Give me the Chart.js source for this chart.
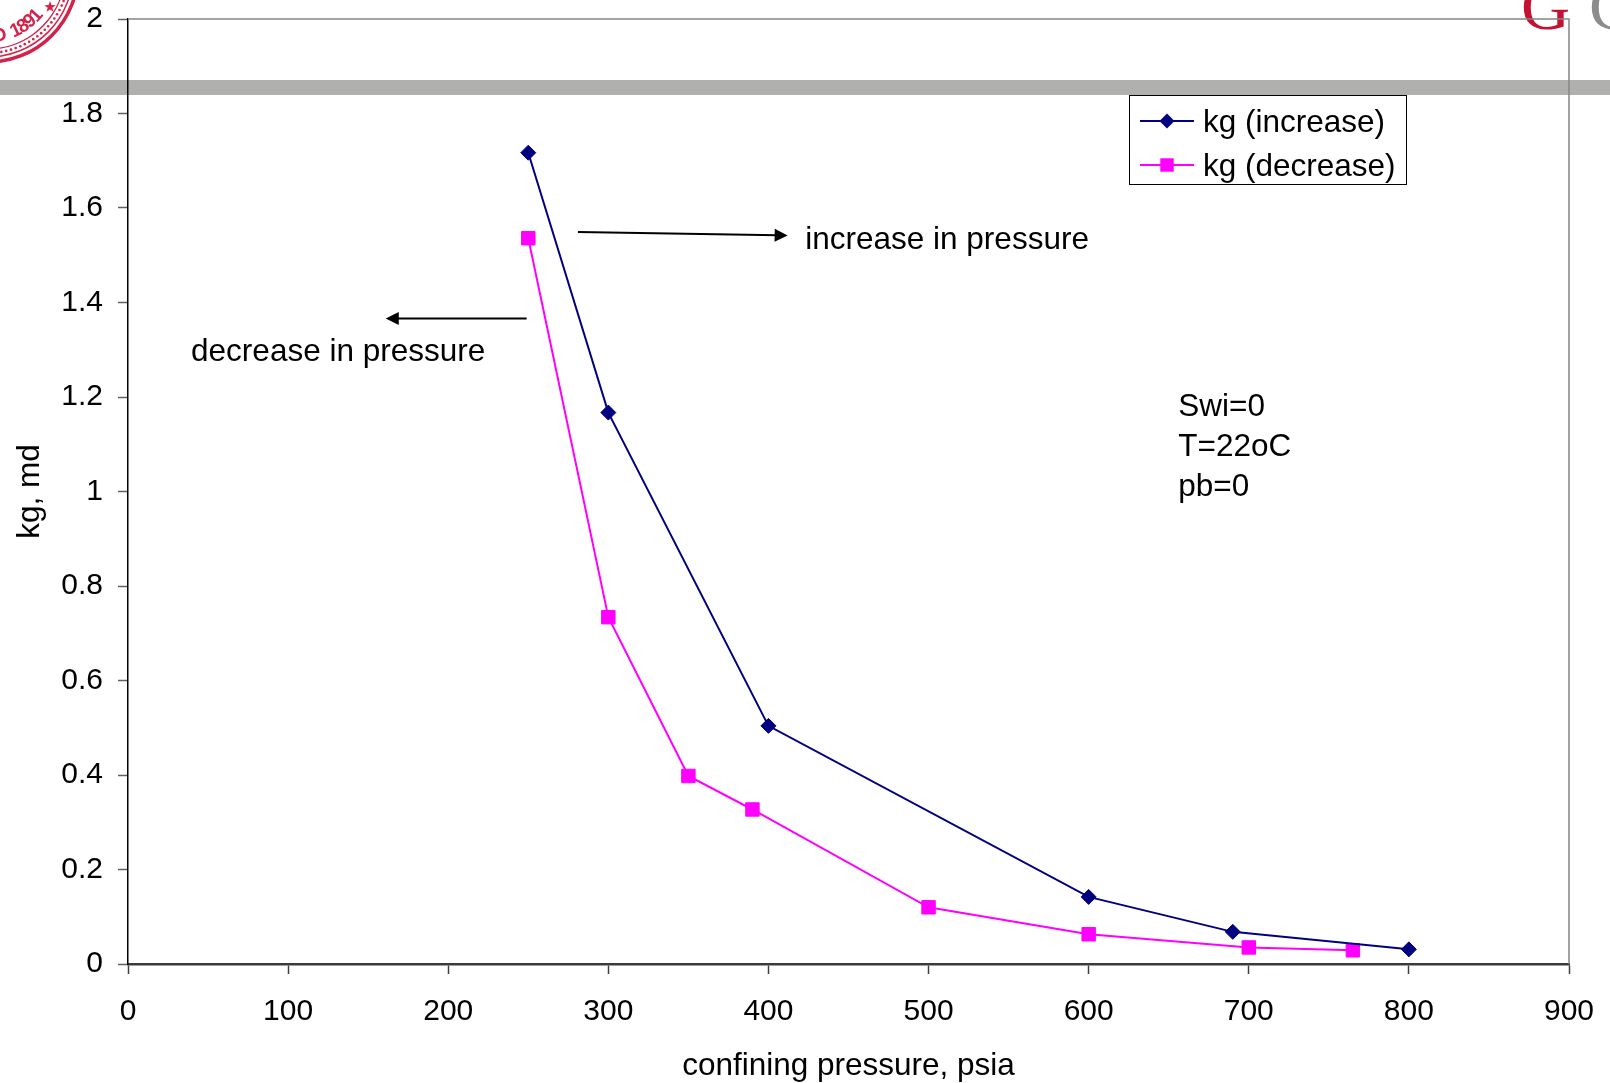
<!DOCTYPE html>
<html>
<head>
<meta charset="utf-8">
<script src="https://cdn.jsdelivr.net/npm/chart.js@4.4.1/dist/chart.umd.min.js"></script>
<style>
  html, body { margin: 0; padding: 0; background: #fff; }
  #wrap { width: 1610px; height: 1083px; }
</style>
</head>
<body>
<div id="wrap"><canvas id="graph"></canvas></div>
<script>
Chart.defaults.color = '#000';
Chart.defaults.font.family = '"Liberation Sans", Arial, sans-serif';
Chart.defaults.font.size = 30;

// gas permeability kg (md) against confining pressure (psia)
const pressureUp = [250, 300, 400, 600, 690, 800];
const kgUp = [1.717, 1.167, 0.504, 0.142, 0.068, 0.031];
const pressureDown = [250, 300, 350, 390, 500, 600, 700, 765];
const kgDown = [1.536, 0.734, 0.398, 0.327, 0.120, 0.063, 0.035, 0.029];

const seriesNames = ['kg (increase)', 'kg (decrease)'];
const xTickLabels = ['0', '100', '200', '300', '400', '500', '600', '700', '800', '900'];
const yTickLabels = ['0', '0.2', '0.4', '0.6', '0.8', '1', '1.2', '1.4', '1.6', '1.8', '2'];
const noteLines = ['Swi=0', 'T=22oC', 'pb=0'];

const NAVY = '#000080';
const MAGENTA = '#ff00ff';
const TEXT_FONT = '31.5px "Liberation Sans", Arial, sans-serif';

function toPoints(xs, ys) {
  return xs.map((x, i) => ({ x: x, y: ys[i] }));
}

function marker(ctx, style, x, y, r, color) {
  ctx.save();
  ctx.fillStyle = color;
  ctx.beginPath();
  if (style === 'rectRot') {
    ctx.moveTo(x - r, y);
    ctx.lineTo(x, y - r);
    ctx.lineTo(x + r, y);
    ctx.lineTo(x, y + r);
    ctx.closePath();
  } else {
    const h = r * Math.SQRT1_2;
    ctx.rect(x - h, y - h, 2 * h, 2 * h);
  }
  ctx.fill();
  ctx.restore();
}

function arrow(ctx, x1, y1, x2, y2) {
  const a = Math.atan2(y2 - y1, x2 - x1);
  ctx.save();
  ctx.strokeStyle = '#000';
  ctx.fillStyle = '#000';
  ctx.lineWidth = 2;
  ctx.beginPath();
  ctx.moveTo(x1, y1);
  ctx.lineTo(x2 - 10 * Math.cos(a), y2 - 10 * Math.sin(a));
  ctx.stroke();
  ctx.translate(x2, y2);
  ctx.rotate(a);
  ctx.beginPath();
  ctx.moveTo(0, 0);
  ctx.lineTo(-13, -6.5);
  ctx.lineTo(-13, 6.5);
  ctx.closePath();
  ctx.fill();
  ctx.restore();
}

// slide header: grey rule, seal corner and wordmark
const backdrop = {
  id: 'backdrop',
  beforeDraw(chart) {
    const ctx = chart.ctx;
    ctx.save();
    ctx.fillStyle = '#b0b0ae';
    ctx.fillRect(0, 80, chart.width, 15);

    const red = '#d4234a';
    const cx = -12, cy = -28;
    ctx.strokeStyle = red;
    ctx.fillStyle = red;
    ctx.lineWidth = 3.5;
    ctx.beginPath(); ctx.arc(cx, cy, 90, 0, Math.PI); ctx.stroke();
    ctx.lineWidth = 1.5;
    ctx.beginPath(); ctx.arc(cx, cy, 85, 0, Math.PI); ctx.stroke();
    ctx.beginPath(); ctx.arc(cx, cy, 77, 0, Math.PI); ctx.stroke();
    for (let d = 0; d <= 180; d += 3.5) {
      const t = d * Math.PI / 180;
      ctx.beginPath();
      ctx.arc(cx + 81 * Math.cos(t), cy + 81 * Math.sin(t), 1.3, 0, Math.PI * 2);
      ctx.fill();
    }
    ctx.font = 'bold 19px "Liberation Sans", Arial, sans-serif';
    ctx.textAlign = 'center';
    ctx.textBaseline = 'middle';
    const word = 'FOUNDED 1891';
    for (let i = 0; i < word.length; i++) {
      const t = (42 + (word.length - 1 - i) * 7.5) * Math.PI / 180;
      ctx.save();
      ctx.translate(cx + 65 * Math.cos(t), cy + 65 * Math.sin(t));
      ctx.rotate(t - Math.PI / 2);
      ctx.fillText(word[i], 0, 0);
      ctx.restore();
    }
    ctx.beginPath();
    for (let k = 0; k < 10; k++) {
      const rr = k % 2 ? 2.4 : 6;
      const t = -Math.PI / 2 + k * Math.PI / 5;
      ctx.lineTo(50 + rr * Math.cos(t), 7 + rr * Math.sin(t));
    }
    ctx.closePath();
    ctx.fill();

    ctx.font = '68px "Liberation Serif", "Times New Roman", serif';
    ctx.textAlign = 'left';
    ctx.textBaseline = 'alphabetic';
    ctx.fillStyle = '#c41230';
    ctx.fillText('G', 1521, 29);
    ctx.fillStyle = '#8c8c8c';
    ctx.fillText('C', 1589, 29);
    ctx.restore();
  }
};

// grey frame on the top and right of the plot
const frame = {
  id: 'frame',
  beforeDatasetsDraw(chart) {
    const { ctx, chartArea: a } = chart;
    ctx.save();
    ctx.strokeStyle = '#858585';
    ctx.lineWidth = 1.5;
    ctx.beginPath();
    ctx.moveTo(a.left, a.top);
    ctx.lineTo(a.right, a.top);
    ctx.lineTo(a.right, a.bottom);
    ctx.stroke();
    ctx.restore();
  }
};

// arrows, notes and the boxed legend
const notes = {
  id: 'notes',
  afterDraw(chart) {
    const ctx = chart.ctx;
    const xs = chart.scales.x, ys = chart.scales.y;
    const px = v => xs.getPixelForValue(v);
    const py = v => ys.getPixelForValue(v);
    ctx.save();
    arrow(ctx, px(281), py(1.549), px(412), py(1.542));
    arrow(ctx, px(249), py(1.366), px(161), py(1.366));

    ctx.fillStyle = '#000';
    ctx.font = TEXT_FONT;
    ctx.textAlign = 'left';
    ctx.textBaseline = 'middle';
    ctx.fillText('increase in pressure', px(423), py(1.537) + 3);
    ctx.fillText('decrease in pressure', px(39.4), py(1.30) + 3);
    noteLines.forEach((t, i) => ctx.fillText(t, px(656), py(1.184 - i * 0.0847) + 3));

    // legend
    ctx.strokeStyle = '#000';
    ctx.lineWidth = 1;
    ctx.strokeRect(1129.5, 95.5, 277, 89);
    chart.data.datasets.forEach((ds, i) => {
      const y = 121 + i * 44;
      ctx.strokeStyle = ds.borderColor;
      ctx.lineWidth = 2;
      ctx.beginPath();
      ctx.moveTo(1140, y);
      ctx.lineTo(1194, y);
      ctx.stroke();
      marker(ctx, ds.pointStyle, 1167, y, ds.pointRadius, ds.pointBackgroundColor);
      ctx.fillStyle = '#000';
      ctx.fillText(ds.label, 1203, y + 2);
    });
    ctx.restore();
  }
};

const ctx = document.getElementById('graph');

new Chart(ctx, {
  type: 'line',
  data: {
    datasets: [{
      label: seriesNames[0],
      data: toPoints(pressureUp, kgUp),
      borderColor: NAVY,
      borderWidth: 2,
      pointStyle: 'rectRot',
      pointRadius: 7.5,
      pointBackgroundColor: NAVY,
      pointBorderColor: NAVY,
      pointBorderWidth: 1,
      tension: 0
    }, {
      label: seriesNames[1],
      data: toPoints(pressureDown, kgDown),
      borderColor: MAGENTA,
      borderWidth: 2,
      pointStyle: 'rect',
      pointRadius: 9.5,
      pointBackgroundColor: MAGENTA,
      pointBorderColor: MAGENTA,
      pointBorderWidth: 1,
      tension: 0
    }]
  },
  options: {
    responsive: true,
    maintainAspectRatio: false,
    animation: false,
    events: [],
    layout: { padding: { top: 19, right: 41, left: 0, bottom: 0 } },
    plugins: {
      legend: { display: false },
      tooltip: { enabled: false }
    },
    scales: {
      x: {
        type: 'linear',
        min: 0,
        max: 900,
        afterFit: s => { s.height = 119; s.paddingLeft = 0; s.paddingRight = 0; },
        ticks: {
          stepSize: 100,
          padding: 20,
          maxRotation: 0,
          color: '#000',
          callback: (v, i) => xTickLabels[i]
        },
        grid: { drawOnChartArea: false, tickLength: 10, tickColor: '#404040', tickWidth: 1.5 },
        border: { color: '#3a3a3a', width: 2.5 },
        title: {
          display: true,
          text: 'confining pressure, psia',
          color: '#000',
          font: { size: 31.5, lineHeight: 1.05 },
          padding: { top: 0, bottom: 0 }
        }
      },
      y: {
        min: 0,
        max: 2,
        afterFit: s => { s.width = 128; s.paddingTop = 0; s.paddingBottom = 0; },
        ticks: {
          stepSize: 0.2,
          padding: 15,
          color: '#000',
          callback: (v, i) => yTickLabels[i]
        },
        grid: { drawOnChartArea: false, tickLength: 10, tickColor: '#606060', tickWidth: 1.5 },
        border: { color: '#000', width: 1.5 },
        title: {
          display: true,
          text: 'kg, md',
          color: '#000',
          font: { size: 31.5 },
          padding: { top: 11, bottom: 0 }
        }
      }
    }
  },
  plugins: [backdrop, frame, notes]
});
</script>
</body>
</html>
